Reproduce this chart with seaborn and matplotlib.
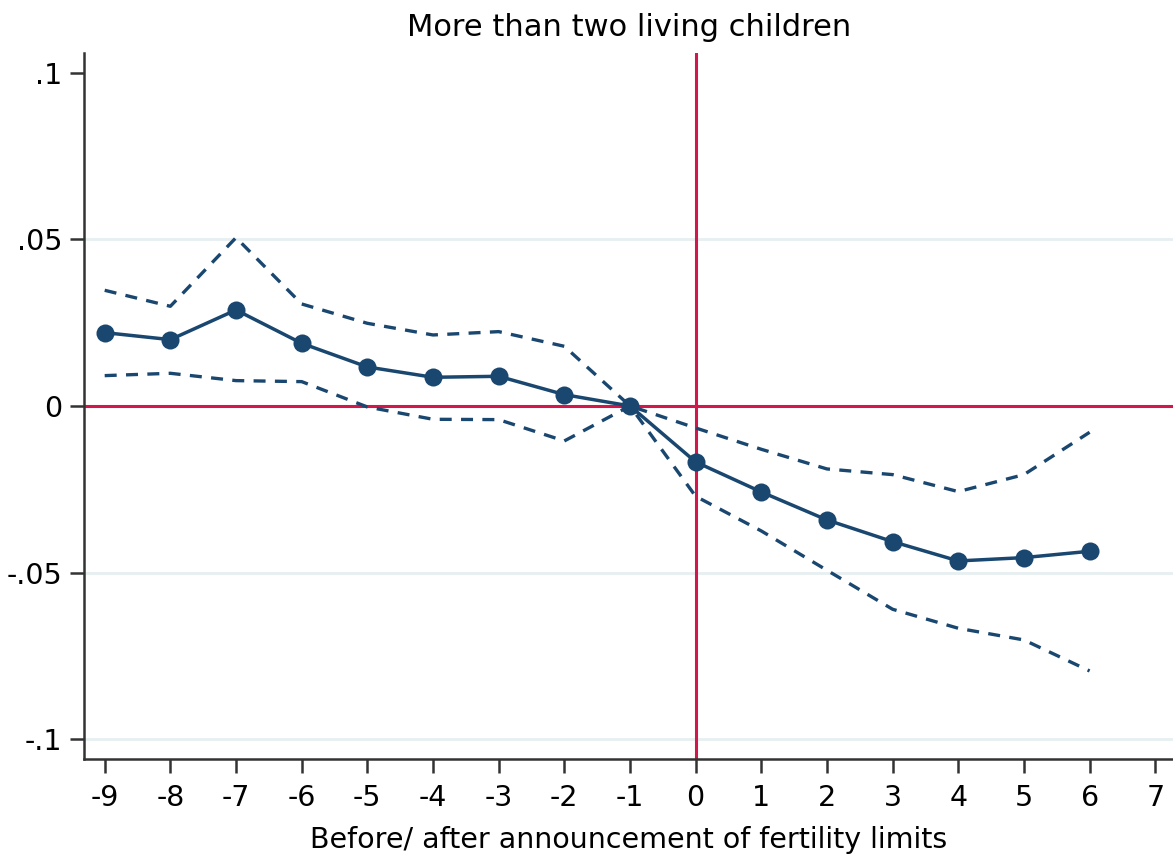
import matplotlib
matplotlib.use("Agg")
import matplotlib.pyplot as plt
import seaborn as sns
import pandas as pd

# Event-study estimates by year relative to the announcement
years = [-9, -8, -7, -6, -5, -4, -3, -2, -1, 0, 1, 2, 3, 4, 5, 6]
coef = [0.0220, 0.0199, 0.0288, 0.0188, 0.0117, 0.0086, 0.0089, 0.0034, 0.0,
        -0.0168, -0.0258, -0.0342, -0.0407, -0.0465, -0.0455, -0.0436]
ci_upper = [0.0347, 0.0299, 0.0505, 0.0306, 0.0248, 0.0213, 0.0223, 0.0179, 0.0,
            -0.0066, -0.0130, -0.0189, -0.0206, -0.0257, -0.0206, -0.0079]
ci_lower = [0.0091, 0.0098, 0.0076, 0.0073, -0.0003, -0.0040, -0.0041, -0.0105, 0.0,
            -0.0271, -0.0375, -0.0493, -0.0610, -0.0667, -0.0702, -0.0795]

x_ticks = list(range(-9, 8))
y_ticks = [-0.1, -0.05, 0.0, 0.05, 0.1]
y_tick_labels = ["-.1", "-.05", "0", ".05", ".1"]

title = "More than two living children"
x_label = "Before/ after announcement of fertility limits"

df = pd.DataFrame({"year": years, "coef": coef, "upper": ci_upper, "lower": ci_lower})

sns.set_theme(style="white")
plt.rcParams["font.family"] = ["DejaVu Sans"]
plt.rcParams["text.color"] = "black"
plt.rcParams["xtick.color"] = "black"
plt.rcParams["ytick.color"] = "black"
plt.rcParams["axes.labelcolor"] = "black"

navy = "#1a476f"
cranberry = "#d2174a"
grid_col = "#e6eff1"

fig = plt.figure(figsize=(11.73, 8.63), dpi=100)
ax = fig.add_axes([0.0719, 0.1202, 0.9281, 0.8188])

# light horizontal grid
for g in [-0.1, -0.05, 0.05]:
    ax.axhline(g, color=grid_col, lw=2, zorder=0)

# reference lines at zero
ax.axhline(0, color=cranberry, lw=2.2, zorder=1)
ax.axvline(0, color=cranberry, lw=2.2, zorder=1)

# confidence bounds (dashed) and point estimates
sns.lineplot(data=df, x="year", y="upper", ax=ax, color=navy, lw=2.4, zorder=2)
sns.lineplot(data=df, x="year", y="lower", ax=ax, color=navy, lw=2.4, zorder=2)
for ln in ax.lines[-2:]:
    ln.set_dashes([3.6, 2.8])
sns.lineplot(data=df, x="year", y="coef", ax=ax, color=navy, lw=2.5,
             marker="o", markersize=13, markeredgewidth=0, zorder=3)

ax.set_xlim(-9.31, 7.27)
ax.set_ylim(-0.106, 0.106)
ax.set_xticks(x_ticks)
ax.set_xticklabels([str(v) for v in x_ticks])
ax.set_yticks(y_ticks)
ax.set_yticklabels(y_tick_labels)

for side in ["top", "right"]:
    ax.spines[side].set_visible(False)
for side in ["left", "bottom"]:
    ax.spines[side].set_color("#333333")
    ax.spines[side].set_linewidth(1.8)

ax.tick_params(axis="x", direction="out", length=10, width=1.8, color="#333333",
               labelsize=20.5, pad=8, bottom=True, labelcolor="black")
ax.tick_params(axis="y", direction="out", length=10, width=1.8, color="#333333",
               labelsize=20.5, pad=6, left=True, labelcolor="black")

ax.set_xlabel(x_label, fontsize=20.5, labelpad=10, color="black")
ax.set_ylabel("")
ax.set_title(title, fontsize=22, pad=12, color="black")

fig.savefig("out.png", dpi=100)
